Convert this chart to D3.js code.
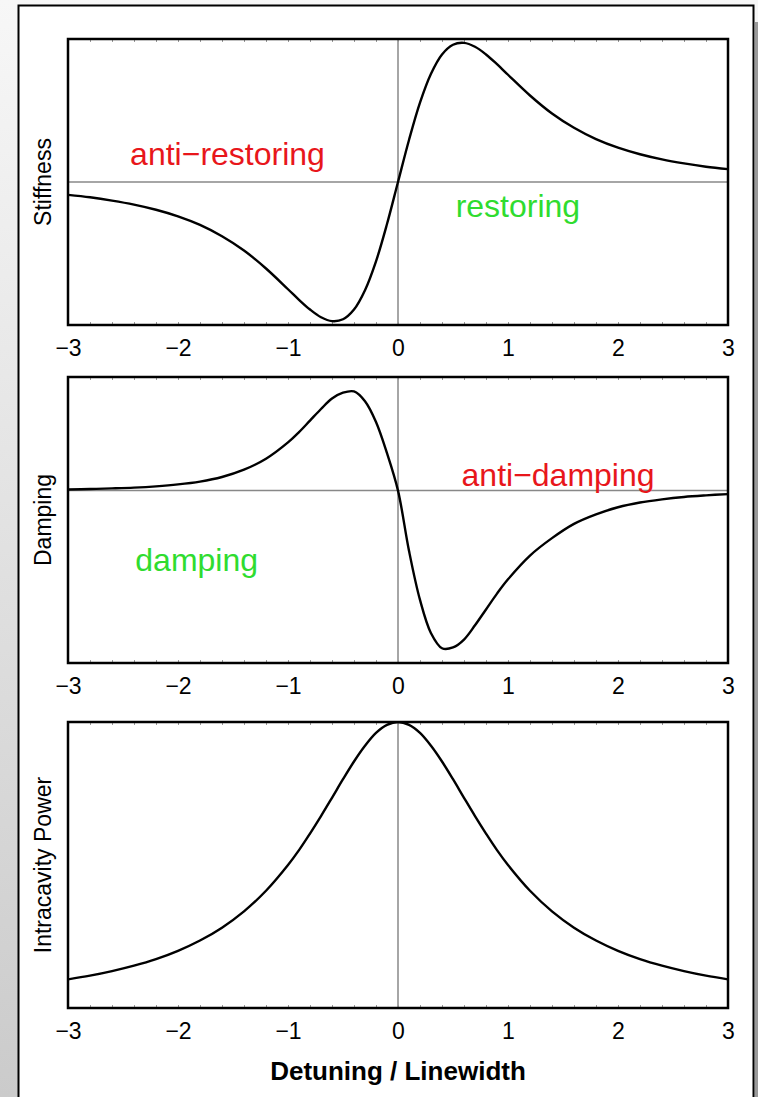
<!DOCTYPE html>
<html>
<head>
<meta charset="utf-8">
<script src="https://cdn.jsdelivr.net/npm/d3@7"></script>
<style>
  body { margin: 0; background: #fff; }
  svg { display: block; font-family: "Liberation Sans", Arial, sans-serif; }
</style>
</head>
<body>
<div id="chart"></div>
<script>
// detuning samples (in linewidths), finer near resonance
const detuning = [-3, -2.8, -2.6, -2.4, -2.2, -2, -1.8, -1.6, -1.4, -1.2, -1,
  -0.9, -0.8, -0.7, -0.6, -0.5, -0.4, -0.3, -0.2, -0.1, 0, 0.1, 0.2, 0.3, 0.4, 0.5, 0.6, 0.7, 0.8, 0.9,
  1, 1.2, 1.4, 1.6, 1.8, 2, 2.2, 2.4, 2.6, 2.8, 3];

// values (arbitrary units)
const stiffness = [-0.090, -0.107, -0.130, -0.158, -0.194, -0.240, -0.300, -0.379, -0.479, -0.605, -0.750,
  -0.824, -0.892, -0.946, -0.973, -0.960, -0.892, -0.757, -0.555, -0.294, 0, 0.294, 0.555, 0.757, 0.892,
  0.960, 0.973, 0.946, 0.892, 0.824,
  0.750, 0.605, 0.479, 0.379, 0.300, 0.240, 0.194, 0.158, 0.130, 0.107, 0.090];

const damping = [0.007, 0.010, 0.014, 0.019, 0.027, 0.039, 0.057, 0.086, 0.132, 0.201, 0.304,
  0.369, 0.442, 0.515, 0.581, 0.618, 0.626, 0.564, 0.433, 0.236, 0, -0.380, -0.690, -0.900, -0.995,
  -0.990, -0.940, -0.850, -0.750, -0.650,
  -0.560, -0.410, -0.300, -0.210, -0.150, -0.105, -0.075, -0.055, -0.040, -0.030, -0.022];

const power = [0.100, 0.113, 0.129, 0.148, 0.171, 0.200, 0.236, 0.281, 0.338, 0.410, 0.500,
  0.552, 0.610, 0.671, 0.735, 0.800, 0.862, 0.917, 0.962, 0.990, 1.000, 0.990, 0.962, 0.917, 0.862,
  0.800, 0.735, 0.671, 0.610, 0.552,
  0.500, 0.410, 0.338, 0.281, 0.236, 0.200, 0.171, 0.148, 0.129, 0.113, 0.100];

const xTicks = [-3, -2, -1, 0, 1, 2, 3];
const xMinor = d3.range(-30, 31, 2).map(d => d / 10);

const panelNames = ['Stiffness', 'Damping', 'Intracavity Power'];
const panelValues = [stiffness, damping, power];
const yDomains = [[-1, 1], [-1.088, 0.717], [0, 1]];
const zeroLine = [true, true, false];

// region labels: [text, x, y, colour, panel]
const regionText = [
  ['anti\u2212restoring', -1.55, 0.12, 'red', 0],
  ['restoring', 1.09, -0.245, 'green', 0],
  ['anti\u2212damping', 1.455, 0.03, 'red', 1],
  ['damping', -1.83, -0.51, 'green', 1],
];

const width = 758;
const height = 1097;
const plotLeft = 68;
const plotRight = 728;
const panelTops = [39, 377, 722];
const panelHeight = 286;

const svg = d3.select('#chart').append('svg')
  .attr('width', width)
  .attr('height', height);

const defs = svg.append('defs');
const grad = defs.append('linearGradient')
  .attr('id', 'bg')
  .attr('x1', 0).attr('y1', 0).attr('x2', 0).attr('y2', 1);
grad.append('stop').attr('offset', '0%').attr('stop-color', '#f7f7f7');
grad.append('stop').attr('offset', '100%').attr('stop-color', '#cbcbcb');

svg.append('rect')
  .attr('width', width).attr('height', height)
  .attr('fill', 'url(#bg)');

// drop shadow on the right
svg.append('rect')
  .attr('x', 755).attr('y', 22).attr('width', 3).attr('height', height - 22)
  .attr('fill', '#9a9a9a');

svg.append('rect')
  .attr('x', 18.5).attr('y', 5.5).attr('width', 735).attr('height', height)
  .attr('fill', '#fff')
  .attr('stroke', '#000')
  .attr('stroke-width', 2);

const x = d3.scaleLinear().domain([-3, 3]).range([plotLeft, plotRight]);

panelNames.forEach((name, i) => {
  const top = panelTops[i];
  const y = d3.scaleLinear().domain(yDomains[i]).range([top + panelHeight, top]);
  const g = svg.append('g');

  if (zeroLine[i]) {
    g.append('line')
      .attr('x1', plotLeft).attr('x2', plotRight)
      .attr('y1', y(0)).attr('y2', y(0))
      .attr('stroke', '#888').attr('stroke-width', 1.5);
  }
  g.append('line')
    .attr('x1', x(0)).attr('x2', x(0))
    .attr('y1', top).attr('y2', top + panelHeight)
    .attr('stroke', '#888').attr('stroke-width', 1.5);

  // inward minor ticks, top and bottom
  const minorBottom = g.append('g')
    .attr('transform', `translate(0,${top + panelHeight})`)
    .call(d3.axisBottom(x).tickValues(xMinor).tickSize(-3).tickFormat(''));
  const minorTop = g.append('g')
    .attr('transform', `translate(0,${top})`)
    .call(d3.axisTop(x).tickValues(xMinor).tickSize(-3).tickFormat(''));
  [minorBottom, minorTop].forEach(a => {
    a.select('.domain').remove();
    a.selectAll('line').attr('stroke', '#999');
  });

  const labels = g.append('g')
    .attr('transform', `translate(0,${top + panelHeight})`)
    .call(d3.axisBottom(x).tickValues(xTicks).tickSize(0).tickPadding(15)
      .tickFormat(d => (d < 0 ? '\u2212' + Math.abs(d) : d)));
  labels.select('.domain').remove();
  labels.selectAll('text')
    .attr('font-size', 23)
    .attr('font-family', '"Liberation Sans", Arial, sans-serif')
    .attr('fill', '#000');

  const line = d3.line()
    .curve(d3.curveCatmullRom.alpha(0.5))
    .x((d, j) => x(detuning[j]))
    .y(d => y(d));

  const clipId = `clip${i}`;
  defs.append('clipPath').attr('id', clipId)
    .append('rect')
    .attr('x', plotLeft).attr('y', top)
    .attr('width', plotRight - plotLeft).attr('height', panelHeight);

  g.append('path')
    .datum(panelValues[i])
    .attr('clip-path', `url(#${clipId})`)
    .attr('d', line)
    .attr('fill', 'none')
    .attr('stroke', '#000')
    .attr('stroke-width', 2.4);

  g.append('rect')
    .attr('x', plotLeft).attr('y', top)
    .attr('width', plotRight - plotLeft).attr('height', panelHeight)
    .attr('fill', 'none')
    .attr('stroke', '#000')
    .attr('stroke-width', 2.5);

  g.append('text')
    .attr('transform', `translate(51,${top + panelHeight / 2}) rotate(-90)`)
    .attr('text-anchor', 'middle')
    .attr('font-size', 23)
    .text(name);

  regionText.filter(r => r[4] === i).forEach(r => {
    g.append('text')
      .attr('x', x(r[1]))
      .attr('y', y(r[2]))
      .attr('text-anchor', 'middle')
      .attr('font-size', 32)
      .attr('fill', r[3] === 'red' ? '#e8161b' : '#2fdc2f')
      .text(r[0]);
  });
});

svg.append('text')
  .attr('x', x(0))
  .attr('y', 1080)
  .attr('text-anchor', 'middle')
  .attr('font-size', 26)
  .attr('font-weight', 'bold')
  .text('Detuning / Linewidth');
</script>
</body>
</html>
